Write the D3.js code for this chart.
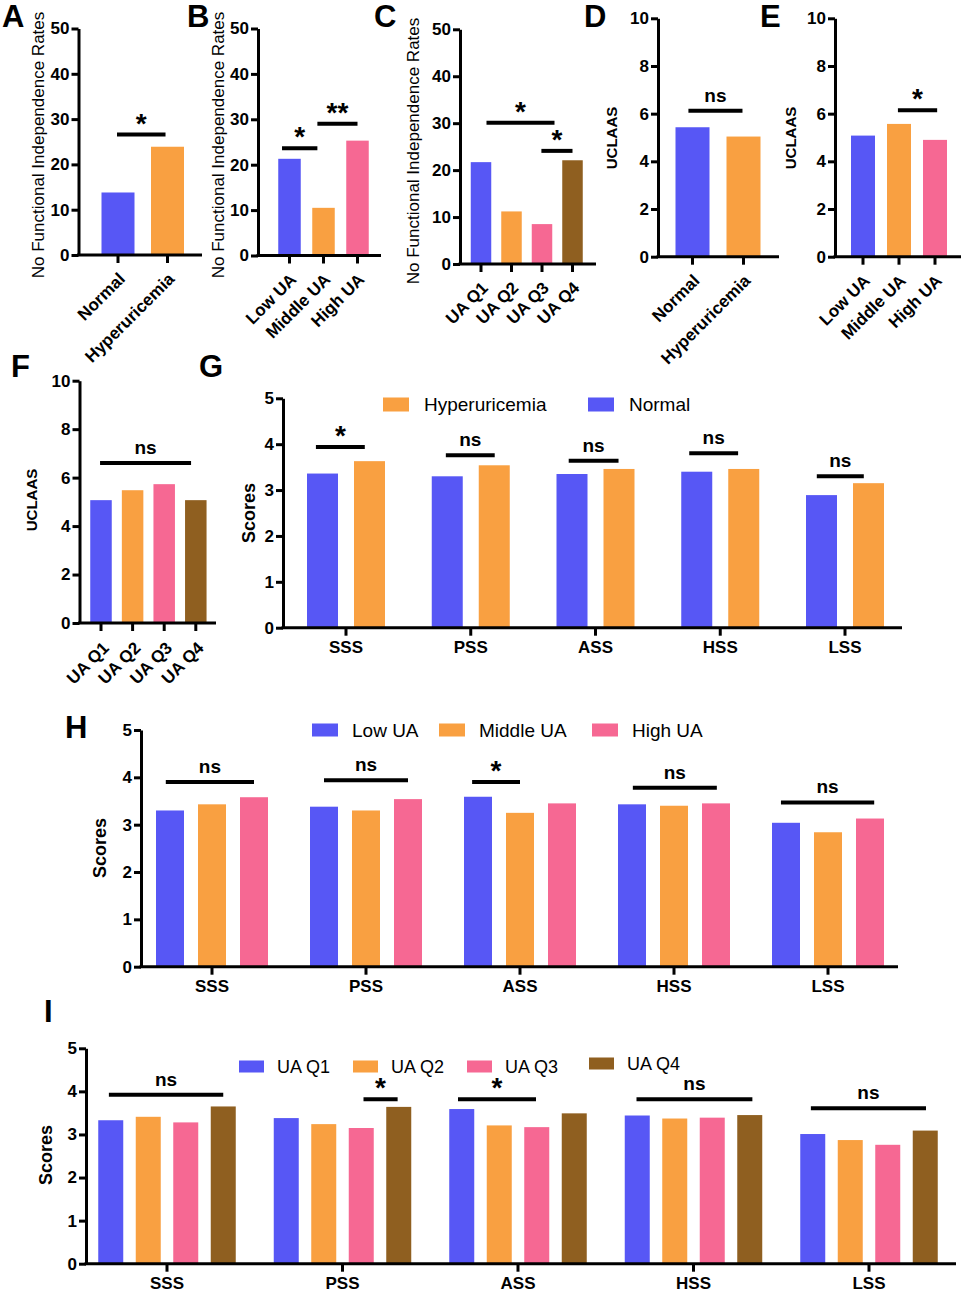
<!DOCTYPE html>
<html>
<head>
<meta charset="utf-8">
<script src="https://cdn.jsdelivr.net/npm/d3@7"></script>
<style>
  body { margin: 0; background: #fff; }
  text { font-family: "Liberation Sans", Arial, sans-serif; }
</style>
</head>
<body>
<script>
// ---- data ----
const twoGroups = ["Normal", "Hyperuricemia"];
const threeGroups = ["Low UA", "Middle UA", "High UA"];
const quartiles = ["UA Q1", "UA Q2", "UA Q3", "UA Q4"];
const domains = ["SSS", "PSS", "ASS", "HSS", "LSS"];

// no functional independence rates (A-C)
const aRates = [13.8, 23.9];
const bRates = [21.3, 10.5, 25.3];
const cRates = [21.7, 11.2, 8.5, 22.1];

// UCLAAS (D-F)
const dUclaas = [5.43, 5.04];
const eUclaas = [5.08, 5.57, 4.9];
const fUclaas = [5.07, 5.48, 5.73, 5.07];

// social support scores (G-I)
const gNormal = [3.36, 3.30, 3.35, 3.40, 2.89];
const gHyper = [3.63, 3.54, 3.46, 3.46, 3.15];
const hLow = [3.30, 3.38, 3.59, 3.43, 3.04];
const hMiddle = [3.43, 3.30, 3.25, 3.40, 2.84];
const hHigh = [3.58, 3.54, 3.45, 3.45, 3.13];
const iQ1 = [3.33, 3.38, 3.59, 3.44, 3.01];
const iQ2 = [3.41, 3.24, 3.21, 3.37, 2.87];
const iQ3 = [3.28, 3.15, 3.17, 3.39, 2.76];
const iQ4 = [3.65, 3.64, 3.49, 3.45, 3.09];

// significance brackets: [from bar, to bar, value, label]
const aSig = [[-0.02, 0.96, 26.6, "*"]];
const bSig = [[-0.22, 0.82, 23.6, "*"], [0.82, 2.0, 29.0, "**"]];
const cSig = [[0.18, 2.41, 30.1, "*"], [1.98, 3.0, 24.1, "*"]];
const dSig = [[-0.08, 0.98, 6.12, "ns"]];
const eSig = [[0.97, 2.06, 6.14, "*"]];
const fSig = [[-0.03, 2.85, 6.6, "ns"]];
// grouped: [domain index, from bar, to bar, value, label]
const gSig = [[0, -0.14, 0.9, 3.94, "*"], [1, -0.03, 1.01, 3.76, "ns"], [2, -0.07, 0.99, 3.64, "ns"],
              [3, -0.16, 0.88, 3.80, "ns"], [4, -0.1, 0.9, 3.30, "ns"]];
const hSig = [[0, -0.1, 2.0, 3.90, "ns"], [1, 0, 2.0, 3.94, "ns"], [2, -0.14, 1.0, 3.90, "*"],
              [3, 0.02, 2.02, 3.78, "ns"], [4, -0.12, 2.1, 3.47, "ns"]];
const iSig = [[0, -0.05, 3.0, 3.92, "ns"], [1, 2.06, 2.97, 3.82, "*"], [2, -0.1, 1.98, 3.82, "*"],
              [3, -0.02, 3.07, 3.82, "ns"], [4, -0.05, 3.02, 3.61, "ns"]];

const colors = ["#5757f5", "#f9a041", "#f66893", "#8f5f20"];

// ---- canvas ----
const svg = d3.select("body").append("svg")
  .attr("width", 963)
  .attr("height", 1294);

function letter(t, x, y) {
  svg.append("text").attr("x", x).attr("y", y)
    .style("font-size", "31px").style("font-weight", "bold").text(t);
}

function yTitle(t, x, y, size, weight) {
  svg.append("text")
    .attr("transform", `translate(${x},${y}) rotate(-90)`)
    .attr("text-anchor", "middle")
    .attr("dominant-baseline", "central")
    .style("font-size", size + "px")
    .style("font-weight", weight)
    .text(t);
}

function sigMark(x0, x1, yy, label, size) {
  svg.append("line")
    .attr("x1", x0).attr("x2", x1).attr("y1", yy).attr("y2", yy)
    .attr("stroke", "#000").attr("stroke-width", 4);
  svg.append("text")
    .attr("x", (x0 + x1) / 2)
    .attr("y", label === "ns" ? yy - 9 : yy - 2)
    .attr("text-anchor", "middle")
    .style("font-size", (label === "ns" ? size : size + 9) + "px")
    .style("font-weight", "bold")
    .text(label);
}

function yAxis(y, p, ticks) {
  const g = svg.append("g")
    .attr("transform", `translate(${p.axisX},0)`)
    .call(d3.axisLeft(y).tickValues(ticks).tickFormat(d3.format("d"))
      .tickSize(7).tickSizeOuter(0).tickPadding(2));
  g.select(".domain").attr("stroke-width", 3);
  g.selectAll(".tick line").attr("stroke-width", 3);
  g.selectAll("text").style("font-size", p.tickFont + "px").style("font-weight", "bold")
    .attr("font-family", null);
}

function xAxisLine(p) {
  svg.append("line")
    .attr("x1", p.axisX - 1.5).attr("x2", p.xEnd)
    .attr("y1", p.yBot).attr("y2", p.yBot)
    .attr("stroke", "#000").attr("stroke-width", 3);
}

// single-series bar panel (A-F)
function simplePanel(p, cats, values, sigs) {
  const n = cats.length;
  const pad = 1 - p.barW / p.step;
  const x = d3.scaleBand().domain(cats)
    .range([p.c0 - p.step / 2, p.c0 - p.step / 2 + p.step * n])
    .paddingInner(pad).paddingOuter(pad / 2);
  const y = d3.scaleLinear().domain([0, p.yMax]).range([p.yBot, p.yTop]);
  const center = k => x(cats[0]) + x.bandwidth() / 2 + k * x.step();

  svg.append("g").selectAll("rect")
    .data(values)
    .enter().append("rect")
    .attr("x", (d, i) => x(cats[i]))
    .attr("y", d => y(d))
    .attr("width", x.bandwidth())
    .attr("height", d => p.yBot - y(d))
    .attr("fill", (d, i) => colors[i]);

  yAxis(y, p, d3.range(0, p.yMax + 0.001, p.yMax / 5));
  xAxisLine(p);

  // x ticks and rotated labels
  cats.forEach((c, i) => {
    const cx = center(i);
    svg.append("line").attr("x1", cx).attr("x2", cx)
      .attr("y1", p.yBot).attr("y2", p.yBot + 8)
      .attr("stroke", "#000").attr("stroke-width", 3);
    svg.append("text")
      .attr("transform", `translate(${cx + p.lab[0]},${p.yBot + p.lab[1]}) rotate(-45)`)
      .attr("text-anchor", "end")
      .style("font-size", p.labFont + "px")
      .style("font-weight", "bold")
      .text(c);
  });

  sigs.forEach(s => sigMark(center(s[0]), center(s[1]), y(s[2]), s[3], 19));
  yTitle(p.title, p.titleX, p.titleY, p.titleFont, p.titleWeight);
}

// grouped bar panel (G-I)
function groupedPanel(p, series, sigs, legend) {
  const nSub = series.length;
  const p0 = 1 - nSub * p.subStep / p.step;
  const x0 = d3.scaleBand().domain(domains)
    .range([p.c0 - p.step / 2, p.c0 - p.step / 2 + p.step * domains.length])
    .paddingInner(p0).paddingOuter(p0 / 2);
  const p1 = 1 - p.barW / p.subStep;
  const x1 = d3.scaleBand().domain(series.map(s => s.name))
    .range([0, x0.bandwidth()])
    .paddingInner(p1).paddingOuter(p1 / 2);
  const y = d3.scaleLinear().domain([0, 5]).range([p.yBot, p.yTop]);

  series.forEach(s => {
    svg.append("g").selectAll("rect")
      .data(s.values)
      .enter().append("rect")
      .attr("x", (d, i) => x0(domains[i]) + x1(s.name))
      .attr("y", d => y(d))
      .attr("width", x1.bandwidth())
      .attr("height", d => p.yBot - y(d))
      .attr("fill", s.color);
  });

  yAxis(y, p, [0, 1, 2, 3, 4, 5]);
  xAxisLine(p);

  const gx = svg.append("g")
    .attr("transform", `translate(0,${p.yBot})`)
    .call(d3.axisBottom(x0).tickSize(8).tickPadding(5));
  gx.select(".domain").remove();
  gx.selectAll(".tick line").attr("stroke-width", 3);
  gx.selectAll("text").style("font-size", "17px").style("font-weight", "bold")
    .attr("font-family", null);

  const barCenter = (g, k) => x0(domains[g]) + x1(series[0].name) + x1.bandwidth() / 2 + k * x1.step();
  sigs.forEach(s => sigMark(barCenter(s[0], s[1]), barCenter(s[0], s[2]), y(s[3]), s[4], 19));

  legend.items.forEach((it, i) => {
    svg.append("rect")
      .attr("x", it.x).attr("y", legend.y - legend.h / 2 + (it.dy || 0))
      .attr("width", legend.w).attr("height", legend.h)
      .attr("fill", it.color);
    svg.append("text")
      .attr("x", it.x + legend.w + legend.gap)
      .attr("y", legend.y + (it.dy || 0))
      .attr("dominant-baseline", "central")
      .style("font-size", legend.font + "px")
      .text(it.name);
  });

  yTitle("Scores", p.titleX, p.titleY, 18, "bold");
}

// ---- panels ----
const ratesTitle = "No Functional Independence Rates";

simplePanel({ axisX: 78.5, xEnd: 202, yTop: 28.5, yBot: 255, c0: 118, step: 49.5, barW: 33, yMax: 50,
  tickFont: 17, labFont: 17, lab: [8, 25], title: ratesTitle, titleX: 38, titleY: 145, titleFont: 17, titleWeight: "normal" },
  twoGroups, aRates, aSig);
letter("A", 2, 27);

simplePanel({ axisX: 258, xEnd: 381, yTop: 28.5, yBot: 255.5, c0: 289.5, step: 34, barW: 22.5, yMax: 50,
  tickFont: 17, labFont: 17, lab: [8, 25], title: ratesTitle, titleX: 218, titleY: 145, titleFont: 17, titleWeight: "normal" },
  threeGroups, bRates, bSig);
letter("B", 187, 27);

simplePanel({ axisX: 460, xEnd: 596, yTop: 29.3, yBot: 264, c0: 481, step: 30.5, barW: 20.5, yMax: 50,
  tickFont: 17, labFont: 17, lab: [8, 25], title: ratesTitle, titleX: 413, titleY: 151, titleFont: 17, titleWeight: "normal" },
  quartiles, cRates, cSig);
letter("C", 374, 27);

simplePanel({ axisX: 658, xEnd: 779, yTop: 18.3, yBot: 256.7, c0: 692.5, step: 51, barW: 34, yMax: 10,
  tickFont: 17, labFont: 17, lab: [8, 25], title: "UCLAAS", titleX: 611, titleY: 138, titleFont: 15, titleWeight: "bold" },
  twoGroups, dUclaas, dSig);
letter("D", 584, 27);

simplePanel({ axisX: 835, xEnd: 961, yTop: 18.3, yBot: 256.7, c0: 863, step: 36, barW: 24, yMax: 10,
  tickFont: 17, labFont: 17, lab: [8, 25], title: "UCLAAS", titleX: 790, titleY: 138, titleFont: 15, titleWeight: "bold" },
  threeGroups, eUclaas, eSig);
letter("E", 760, 27);

simplePanel({ axisX: 79.5, xEnd: 216, yTop: 380.7, yBot: 623, c0: 101, step: 31.6, barW: 21.5, yMax: 10,
  tickFont: 17, labFont: 17, lab: [9, 26], title: "UCLAAS", titleX: 31, titleY: 500, titleFont: 15, titleWeight: "bold" },
  quartiles, fUclaas, fSig);
letter("F", 11, 377);

groupedPanel({ axisX: 283, xEnd: 902, yTop: 398.3, yBot: 627.7, c0: 346, step: 124.75, subStep: 47, barW: 31,
  tickFont: 17, titleX: 249, titleY: 513 },
  [{ name: "Normal", values: gNormal, color: colors[0] }, { name: "Hyperuricemia", values: gHyper, color: colors[1] }],
  gSig,
  { y: 404.5, w: 26, h: 14, gap: 15, font: 19,
    items: [{ name: "Hyperuricemia", color: colors[1], x: 383 }, { name: "Normal", color: colors[0], x: 588 }] });
letter("G", 199, 377);

groupedPanel({ axisX: 141, xEnd: 898, yTop: 730, yBot: 966.7, c0: 212, step: 154, subStep: 42, barW: 28,
  tickFont: 17, titleX: 100, titleY: 848 },
  [{ name: "Low UA", values: hLow, color: colors[0] }, { name: "Middle UA", values: hMiddle, color: colors[1] },
   { name: "High UA", values: hHigh, color: colors[2] }],
  hSig,
  { y: 730, w: 26, h: 13, gap: 14, font: 19,
    items: [{ name: "Low UA", color: colors[0], x: 312 }, { name: "Middle UA", color: colors[1], x: 439 },
            { name: "High UA", color: colors[2], x: 592 }] });
letter("H", 65, 738);

groupedPanel({ axisX: 86, xEnd: 956, yTop: 1048.3, yBot: 1263.7, c0: 167, step: 175.5, subStep: 37.5, barW: 25,
  tickFont: 17, titleX: 46, titleY: 1155 },
  [{ name: "UA Q1", values: iQ1, color: colors[0] }, { name: "UA Q2", values: iQ2, color: colors[1] },
   { name: "UA Q3", values: iQ3, color: colors[2] }, { name: "UA Q4", values: iQ4, color: colors[3] }],
  iSig,
  { y: 1066.5, w: 25, h: 12, gap: 13, font: 18,
    items: [{ name: "UA Q1", color: colors[0], x: 239 }, { name: "UA Q2", color: colors[1], x: 353 },
            { name: "UA Q3", color: colors[2], x: 467 }, { name: "UA Q4", color: colors[3], x: 589, dy: -3 }] });
letter("I", 44, 1022);
</script>
</body>
</html>
